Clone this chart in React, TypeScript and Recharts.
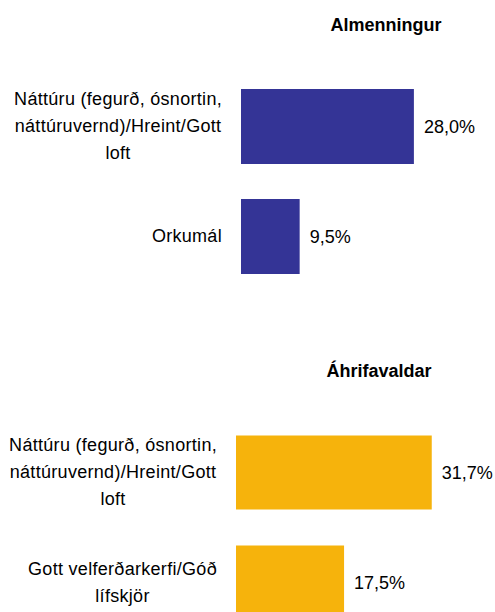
import { BarChart, Bar, XAxis, YAxis, LabelList } from "recharts";

const FONT = '"Liberation Sans", Arial, sans-serif';

// Almenningur (general public)
const publicCategories = [
  "Náttúru (fegurð, ósnortin,\nnáttúruvernd)/Hreint/Gott\nloft",
  "Orkumál",
];
const publicValues = [28.0, 9.5];

// Áhrifavaldar (influencers)
const influencerCategories = [
  "Náttúru (fegurð, ósnortin,\nnáttúruvernd)/Hreint/Gott\nloft",
  "Gott velferðarkerfi/Góð\nlífskjör",
];
const influencerValues = [31.7, 17.5];

const panelTitles = ["Almenningur", "Áhrifavaldar"];

const formatPct = (v: any) => Number(v).toFixed(1).replace(".", ",") + "%";

function WrappedTick(props: any) {
  const { y, payload, right } = props;
  const h = 120;
  return (
    <foreignObject x={0} y={y - h / 2} width={right} height={h}>
      <div
        style={{
          width: right,
          height: h,
          display: "flex",
          alignItems: "center",
          justifyContent: "flex-end",
        }}
      >
        <div
          style={{
            textAlign: "center",
            whiteSpace: "pre-line",
            fontFamily: FONT,
            fontSize: 18,
            letterSpacing: "0.3px",
            lineHeight: "27px",
            color: "#000",
          }}
        >
          {payload.value}
        </div>
      </div>
    </foreignObject>
  );
}

interface PanelProps {
  title: string;
  categories: string[];
  values: number[];
  color: string;
  top: number;
  height: number;
  axisWidth: number;
  labelRight: number;
  marginTop: number;
  barSize: number;
  titleX: number;
  titleBaseline: number;
}

function Panel({
  title,
  categories,
  values,
  color,
  top,
  height,
  axisWidth,
  labelRight,
  marginTop,
  barSize,
  titleX,
  titleBaseline,
}: PanelProps) {
  const data = categories.map((name, i) => ({ name, value: values[i] }));
  return (
    <div style={{ position: "absolute", left: 0, top, width: 495, height }}>
      <div
        style={{
          position: "absolute",
          left: titleX - 100,
          width: 200,
          top: titleBaseline - 15.25,
          textAlign: "center",
          fontFamily: FONT,
          fontWeight: "bold",
          fontSize: 18,
          lineHeight: "18px",
          color: "#000",
        }}
      >
        {title}
      </div>
      <BarChart
        width={495}
        height={height}
        data={data}
        layout="vertical"
        margin={{ top: marginTop, right: 495 - axisWidth - 247, bottom: height - marginTop - 220, left: 0 }}
      >
        <XAxis type="number" domain={[0, 40]} hide />
        <YAxis
          type="category"
          dataKey="name"
          width={axisWidth}
          axisLine={false}
          tickLine={false}
          tick={<WrappedTick right={labelRight} />}
        />
        <Bar dataKey="value" fill={color} barSize={barSize} isAnimationActive={false}>
          <LabelList
            dataKey="value"
            position="right"
            offset={10}
            formatter={formatPct}
            style={{ fontFamily: FONT, fontSize: 18, fill: "#000" }}
          />
        </Bar>
      </BarChart>
    </div>
  );
}

export default function App() {
  return (
    <div
      style={{
        position: "absolute",
        left: 0,
        top: 0,
        width: 495,
        height: 612,
        overflow: "hidden",
        background: "#fff",
      }}
    >
      <Panel
        title={panelTitles[0]}
        categories={publicCategories}
        values={publicValues}
        color="#343496"
        top={0}
        height={300}
        axisWidth={241}
        labelRight={222}
        marginTop={71}
        barSize={75}
        titleX={386}
        titleBaseline={31}
      />
      <Panel
        title={panelTitles[1]}
        categories={influencerCategories}
        values={influencerValues}
        color="#F6B30C"
        top={300}
        height={340}
        axisWidth={236}
        labelRight={217}
        marginTop={117.5}
        barSize={74}
        titleX={379}
        titleBaseline={77}
      />
    </div>
  );
}
